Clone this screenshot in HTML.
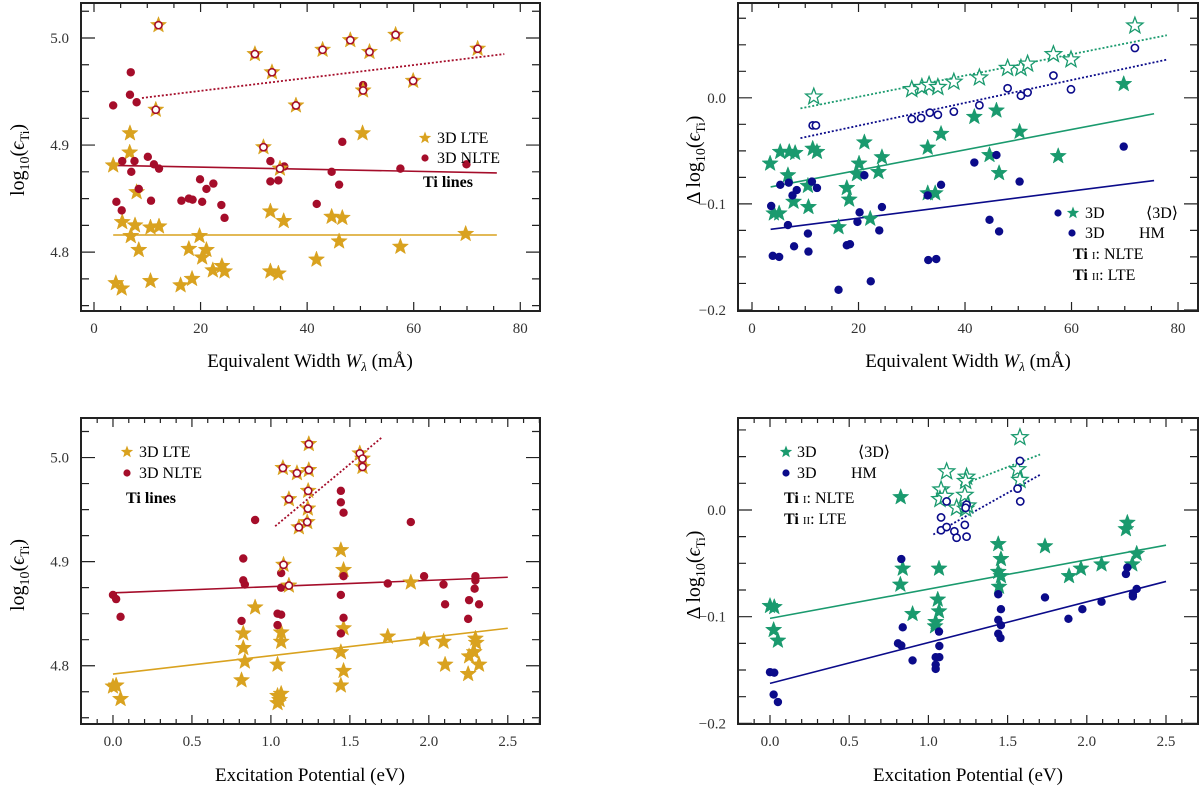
<!DOCTYPE html>
<html><head><meta charset="utf-8"><style>
html,body{margin:0;padding:0;background:#fff;}
svg{display:block;font-family:"Liberation Serif","DejaVu Serif",serif;}
</style></head><body>
<svg id="fig" width="1200" height="786" viewBox="0 0 1200 786" xmlns="http://www.w3.org/2000/svg">
<g id="layer"></g>
<text x="310" y="367" font-size="19" text-anchor="middle">Equivalent Width <tspan font-style="italic">W</tspan><tspan font-style="italic" font-size="13" dy="4">λ</tspan><tspan dy="-4"> (mÅ)</tspan></text>
<text x="968" y="367" font-size="19" text-anchor="middle">Equivalent Width <tspan font-style="italic">W</tspan><tspan font-style="italic" font-size="13" dy="4">λ</tspan><tspan dy="-4"> (mÅ)</tspan></text>
<text x="310" y="781" font-size="19" text-anchor="middle">Excitation Potential (eV)</text>
<text x="968" y="781" font-size="19" text-anchor="middle">Excitation Potential (eV)</text>
<text transform="translate(24,160) rotate(-90)" font-size="20" text-anchor="middle">log<tspan font-size="14" dy="5">10</tspan><tspan dy="-5">(</tspan><tspan font-style="italic">ϵ</tspan><tspan font-size="13" dy="5">Ti</tspan><tspan dy="-5">)</tspan></text>
<text transform="translate(24,575) rotate(-90)" font-size="20" text-anchor="middle">log<tspan font-size="14" dy="5">10</tspan><tspan dy="-5">(</tspan><tspan font-style="italic">ϵ</tspan><tspan font-size="13" dy="5">Ti</tspan><tspan dy="-5">)</tspan></text>
<text transform="translate(700,160) rotate(-90)" font-size="20" text-anchor="middle">Δ log<tspan font-size="14" dy="5">10</tspan><tspan dy="-5">(</tspan><tspan font-style="italic">ϵ</tspan><tspan font-size="13" dy="5">Ti</tspan><tspan dy="-5">)</tspan></text>
<text transform="translate(700,575) rotate(-90)" font-size="20" text-anchor="middle">Δ log<tspan font-size="14" dy="5">10</tspan><tspan dy="-5">(</tspan><tspan font-style="italic">ϵ</tspan><tspan font-size="13" dy="5">Ti</tspan><tspan dy="-5">)</tspan></text>
<g font-size="16">
<text x="437" y="143">3D LTE</text>
<text x="437" y="163">3D NLTE</text>
<text x="423" y="187" font-weight="bold">Ti lines</text>
</g>
<g font-size="16">
<text x="139" y="457">3D LTE</text>
<text x="139" y="478">3D NLTE</text>
<text x="126" y="503" font-weight="bold">Ti lines</text>
</g>
<g font-size="16">
<text x="1085" y="218">3D</text>
<text x="1146" y="218">⟨3D⟩</text>
<text x="1085" y="238">3D</text>
<text x="1139" y="238">HM</text>
<text x="1073" y="259"><tspan font-weight="bold">Ti</tspan> <tspan font-size="11">I</tspan>: NLTE</text>
<text x="1073" y="280"><tspan font-weight="bold">Ti</tspan> <tspan font-size="11">II</tspan>: LTE</text>
</g>
<g font-size="16">
<text x="797" y="457">3D</text>
<text x="858" y="457">⟨3D⟩</text>
<text x="797" y="478">3D</text>
<text x="851" y="478">HM</text>
<text x="784" y="503"><tspan font-weight="bold">Ti</tspan> <tspan font-size="11">I</tspan>: NLTE</text>
<text x="784" y="524"><tspan font-weight="bold">Ti</tspan> <tspan font-size="11">II</tspan>: LTE</text>
</g>
</svg>
<script>
const tlBothX = [12.1,30.2,33.4,42.9,48.1,51.7,56.6,72,59.9,50.5,37.9,11.6,31.8,34.9];
const tlBothY = [5.012,4.985,4.968,4.989,4.998,4.987,5.003,4.990,4.960,4.951,4.937,4.933,4.898,4.878];
const tlNlteX = [50.5,6.9,6.75,8,3.6,46.6,10.1,5.3,7.6,33.1,11.25,12.2,7,35.7,44.6,57.5,69.9,19.9,33.1,34.6,22.4,46,21.1,8.4,4.2,10.7,16.4,17.8,18.5,20.3,23.9,41.8,5.2,24.5];
const tlNlteY = [4.956,4.968,4.947,4.94,4.937,4.903,4.889,4.885,4.885,4.885,4.882,4.878,4.875,4.88,4.875,4.878,4.882,4.868,4.866,4.867,4.864,4.863,4.859,4.859,4.847,4.848,4.848,4.85,4.849,4.847,4.844,4.845,4.839,4.832];
const tlLteX = [6.75,50.4,6.7,3.6,8,33.1,35.6,5.3,7.7,10.6,12.2,44.6,46.6,6.9,19.8,69.75,46,57.5,8.4,17.8,21.1,20.3,41.75,22.3,24,24.5,33.1,34.6,10.6,18.4,4.1,5.2,16.25];
const tlLteY = [4.911,4.911,4.893,4.881,4.856,4.838,4.829,4.828,4.825,4.823,4.824,4.833,4.832,4.815,4.815,4.817,4.81,4.805,4.802,4.803,4.802,4.795,4.793,4.783,4.787,4.782,4.782,4.78,4.773,4.775,4.771,4.766,4.769];
const tlFitBoth = [[9,4.944],[77,4.985]];
const tlFitNlte = [[3.6,4.881],[75.6,4.874]];
const tlFitLte = [[3.6,4.816],[75.6,4.816]];
const tlXTicks = [0,20,40,60,80];
const tlYTicks = [4.8,4.9,5.0];

const trAvg2X = [11.6,30,31.9,33.25,34.9,37.9,42.7,48,50.5,51.75,56.6,59.9,71.9];
const trAvg2Y = [0.001,0.008,0.010,0.012,0.010,0.015,0.019,0.028,0.028,0.032,0.041,0.036,0.068];
const trHm2X = [11.4,12,30,31.75,33.4,34.9,37.9,42.7,48,50.5,51.75,56.6,59.9,71.9];
const trHm2Y = [-0.026,-0.026,-0.02,-0.019,-0.014,-0.016,-0.013,-0.007,0.009,0.002,0.005,0.021,0.008,0.047];
const trAvg1X = [69.8,41.75,45.9,35.5,21.1,50.25,33,5.3,7,8.1,11.4,12.2,3.4,20.1,24.4,44.6,57.5,23.75,6.75,46.4,19.7,10.5,17.8,7.8,18.25,33,34.4,10.6,4.1,5.1,22.2,16.25];
const trAvg1Y = [0.013,-0.018,-0.012,-0.034,-0.042,-0.032,-0.047,-0.051,-0.051,-0.052,-0.048,-0.051,-0.062,-0.062,-0.056,-0.054,-0.055,-0.07,-0.073,-0.071,-0.072,-0.083,-0.085,-0.098,-0.096,-0.09,-0.09,-0.103,-0.109,-0.109,-0.114,-0.122];
const trHm1X = [69.8,41.75,45.9,50.25,35.5,21.1,5.3,6.9,8.4,7.6,11.25,12.2,33,3.6,24.4,20.2,19.8,6.75,44.6,46.4,10.5,23.9,7.9,10.6,3.9,5.1,17.8,18.4,33.1,34.6,16.25,22.3];
const trHm1Y = [-0.046,-0.061,-0.054,-0.079,-0.082,-0.073,-0.082,-0.08,-0.087,-0.092,-0.079,-0.085,-0.092,-0.102,-0.103,-0.108,-0.117,-0.12,-0.115,-0.126,-0.128,-0.125,-0.14,-0.145,-0.149,-0.15,-0.139,-0.138,-0.153,-0.152,-0.181,-0.173];
const trFitAvg2 = [[9.1,-0.010],[77.9,0.059]];
const trFitHm2 = [[9.1,-0.038],[77.9,0.036]];
const trFitAvg1 = [[3.5,-0.084],[75.5,-0.015]];
const trFitHm1 = [[3.5,-0.124],[75.5,-0.078]];
const trXTicks = [0,20,40,60,80];
const trYTicks = [-0.2,-0.1,0.0];

const blBothX = [1.24,1.076,1.165,1.24,1.236,1.114,1.234,1.23,1.177,1.563,1.58,1.58,1.08,1.114];
const blBothY = [5.013,4.990,4.985,4.988,4.968,4.960,4.951,4.938,4.933,5.004,4.999,4.991,4.897,4.877];
const blNlteX = [1.443,1.443,1.46,0.9,1.886,0.825,1.065,1.46,1.97,2.295,2.295,0.825,0.835,1.74,2.093,1.065,2.29,0,0.02,1.443,2.255,2.103,2.318,1.042,1.065,0.048,1.46,2.249,0.814,1.042,1.443];
const blNlteY = [4.968,4.957,4.947,4.94,4.938,4.903,4.889,4.886,4.886,4.886,4.882,4.882,4.878,4.879,4.878,4.875,4.874,4.868,4.864,4.868,4.863,4.859,4.859,4.85,4.849,4.847,4.846,4.845,4.843,4.839,4.831];
const blLteX = [1.443,1.46,1.886,0.9,0.825,1.065,1.065,1.46,1.74,1.97,2.093,2.295,2.3,0.825,1.443,2.287,0.835,1.042,2.255,2.103,2.318,1.46,2.249,0.814,0,0.02,1.443,0.048,1.065,1.042,1.055,1.042];
const blLteY = [4.911,4.892,4.88,4.856,4.831,4.832,4.823,4.836,4.828,4.825,4.823,4.826,4.822,4.817,4.813,4.813,4.804,4.801,4.809,4.801,4.801,4.795,4.792,4.786,4.780,4.781,4.781,4.768,4.773,4.771,4.767,4.764];
const blFitBoth = [[1.027,4.934],[1.70,5.019]];
const blFitNlte = [[0,4.870],[2.5,4.885]];
const blFitLte = [[0,4.792],[2.5,4.836]];
const blXTicks = [0.0,0.5,1.0,1.5,2.0,2.5];
const blYTicks = [4.8,4.9,5.0];

const brAvg2X = [1.578,1.115,1.241,1.235,1.08,1.563,1.578,1.073,1.105,1.23,1.178,1.235,1.248];
const brAvg2Y = [0.068,0.036,0.031,0.027,0.019,0.038,0.028,0.010,0.013,0.014,0.002,0.001,0.004];
const brHm2X = [1.578,1.563,1.58,1.115,1.241,1.235,1.08,1.08,1.115,1.164,1.23,1.178,1.241];
const brHm2Y = [0.046,0.020,0.008,0.008,0.005,0.002,-0.007,-0.019,-0.016,-0.02,-0.014,-0.026,-0.025];
const brAvg1X = [0.825,2.256,2.247,1.441,1.736,1.458,2.315,2.287,2.093,0.838,1.067,1.441,1.458,1.963,1.888,0.823,1.446,1.059,1.067,0.9,1.046,1.042,0,0.027,0.023,0.05];
const brAvg1Y = [0.012,-0.012,-0.018,-0.032,-0.034,-0.046,-0.041,-0.051,-0.051,-0.055,-0.055,-0.058,-0.062,-0.055,-0.062,-0.070,-0.072,-0.084,-0.095,-0.0975,-0.105,-0.109,-0.090,-0.091,-0.1125,-0.1225];
const brHm1X = [0.829,2.256,2.247,2.315,2.291,2.291,2.093,1.972,1.884,1.736,1.441,1.458,1.441,1.458,1.441,1.455,0.838,1.067,0.808,0.829,1.069,0.9,1.046,1.069,1.046,1.046,0,0.027,0.023,0.05];
const brHm1Y = [-0.046,-0.054,-0.060,-0.074,-0.079,-0.081,-0.086,-0.093,-0.102,-0.082,-0.079,-0.093,-0.103,-0.108,-0.116,-0.12,-0.11,-0.114,-0.125,-0.127,-0.1275,-0.141,-0.138,-0.138,-0.145,-0.149,-0.152,-0.1525,-0.173,-0.18];
const brFitAvg2 = [[1.2,0.023],[1.705,0.052]];
const brFitHm2 = [[1.031,-0.023],[1.705,0.033]];
const brFitAvg1 = [[0,-0.1016],[2.5,-0.033]];
const brFitHm1 = [[0,-0.1625],[2.5,-0.067]];
const brXTicks = [0.0,0.5,1.0,1.5,2.0,2.5];
const brYTicks = [-0.2,-0.1,0.0];

const GOLD="#d9a21f", RED="#a50d2a", GREEN="#1a9a6e", BLUE="#0b0b8a";
const NS="http://www.w3.org/2000/svg";
const layer=document.getElementById('layer');
function mk(tag,attrs,parent){const e=document.createElementNS(NS,tag);for(const k in attrs)e.setAttribute(k,attrs[k]);(parent||layer).appendChild(e);return e;}
function starPath(cx,cy,R){const r=R*0.42;let d="";for(let i=0;i<10;i++){const a=-Math.PI/2+i*Math.PI/5;const rr=i%2?r:R;d+=(i?"L":"M")+(cx+rr*Math.cos(a)).toFixed(2)+","+(cy+rr*Math.sin(a)).toFixed(2);}return d+"Z";}

function panel(name,fx0,fx1,fy0,fy1,xd0,xd1,yd0,yd1){
  const sx=d=>fx0+(d-xd0)/(xd1-xd0)*(fx1-fx0);
  const sy=d=>fy1-(d-yd0)/(yd1-yd0)*(fy1-fy0);
  const g=mk('g',{});
  
  
  return {sx,sy,g,fx0,fx1,fy0,fy1,xd0,xd1,yd0,yd1,name};
}
function frame(P,xTicks,yTicks,xMinor,yMinor,xFmt,yFmt){
  const {sx,sy,fx0,fx1,fy0,fy1}=P;
  const ax=mk('g',{});
  
  
  let d="";
  for(let v=Math.ceil(P.xd0/xMinor)*xMinor;v<=P.xd1;v+=xMinor){const x=sx(v);const major=xTicks.some(t=>Math.abs(t-v)<1e-6);const L=major?9:5;d+=`M${x},${fy1}v${-L}M${x},${fy0}v${L}`;}
  for(let v=Math.ceil(P.yd0/yMinor-1e-9)*yMinor;v<=P.yd1+1e-9;v+=yMinor){const y=sy(v);const major=yTicks.some(t=>Math.abs(t-v)<1e-6);const L=major?14:8;d+=`M${fx0},${y}h${L}M${fx1},${y}h${-L}`;}
  mk('path',{d,stroke:'#222','stroke-width':1.2,fill:'none'},ax);
  mk('rect',{x:fx0,y:fy0,width:fx1-fx0,height:fy1-fy0,fill:'none',stroke:'#222','stroke-width':2},ax);
  xTicks.forEach(v=>{const t=mk('text',{x:sx(v),y:fy1+22,'font-size':15,'text-anchor':'middle',fill:'#333'},ax);t.textContent=xFmt(v);
    
    });
  yTicks.forEach(v=>{const t=mk('text',{x:fx0-12,y:sy(v)+5,'font-size':15,'text-anchor':'end',fill:'#333'},ax);t.textContent=yFmt(v);
    
    });
}
function fit(P,pts,color,dotted,nm){
  const l=mk('line',{x1:P.sx(pts[0][0]),y1:P.sy(pts[0][1]),x2:P.sx(pts[1][0]),y2:P.sy(pts[1][1]),stroke:color,'stroke-width':dotted?1.8:1.6,'stroke-dasharray':dotted?'2,2':'none'},P.g);
  
  
}
function stars(P,xs,ys,color,hollow,nm,R){
  xs.forEach((x,i)=>{const p=mk('path',{d:starPath(P.sx(x),P.sy(ys[i]),R||8.5),fill:hollow?'#fff':color,stroke:color,'stroke-width':hollow?1.3:0.5},P.g);
    
    });
}
function dots(P,xs,ys,color,hollow,nm){
  xs.forEach((x,i)=>{const c=mk('circle',{cx:P.sx(x),cy:P.sy(ys[i]),r:hollow?3.6:4.2,fill:hollow?'#fff':color,stroke:color,'stroke-width':hollow?1.6:0},P.g);
    
    });
}
const f1=v=>v.toFixed(1), f0=v=>String(v), fm=v=>(v<0?'−':'')+Math.abs(v).toFixed(1);

const TL=panel('tl',81,540,3,311,-2.44,83.7,4.745,5.0327);
fit(TL,tlFitBoth,RED,true,'fit-line-both');
fit(TL,tlFitNlte,RED,false,'fit-line-nlte');
fit(TL,tlFitLte,GOLD,false,'fit-line-lte');
stars(TL,tlLteX,tlLteY,GOLD,false,'lte-star');
dots(TL,tlNlteX,tlNlteY,RED,false,'nlte-dot');
stars(TL,tlBothX,tlBothY,GOLD,false,'ti2-star');
dots(TL,tlBothX,tlBothY,RED,true,'ti2-ring');
frame(TL,tlXTicks,tlYTicks,5,0.025,f0,f1);
const TR=panel('tr',738,1198,3,311,-2.63,83.75,-0.201,0.0894);
fit(TR,trFitAvg2,GREEN,true,'fit-line-avg-ti2');
fit(TR,trFitHm2,BLUE,true,'fit-line-hm-ti2');
fit(TR,trFitAvg1,GREEN,false,'fit-line-avg-ti1');
fit(TR,trFitHm1,BLUE,false,'fit-line-hm-ti1');
stars(TR,trAvg1X,trAvg1Y,GREEN,false,'avg-star');
dots(TR,trHm1X,trHm1Y,BLUE,false,'hm-dot');
stars(TR,trAvg2X,trAvg2Y,GREEN,true,'avg-hollow-star');
dots(TR,trHm2X,trHm2Y,BLUE,true,'hm-hollow-circle');
frame(TR,trXTicks,trYTicks,5,0.025,f0,fm);
const BL=panel('bl',81,540,418,724,-0.2025,2.704,4.744,5.038);
fit(BL,blFitBoth,RED,true,'fit-line-both');
fit(BL,blFitNlte,RED,false,'fit-line-nlte');
fit(BL,blFitLte,GOLD,false,'fit-line-lte');
stars(BL,blLteX,blLteY,GOLD,false,'lte-star');
dots(BL,blNlteX,blNlteY,RED,false,'nlte-dot');
stars(BL,blBothX,blBothY,GOLD,false,'ti2-star');
dots(BL,blBothX,blBothY,RED,true,'ti2-ring');
frame(BL,blXTicks,blYTicks,0.1,0.025,f1,f1);
const BR=panel('br',738,1198,418,724,-0.202,2.702,-0.2006,0.0862);
fit(BR,brFitAvg2,GREEN,true,'fit-line-avg-ti2');
fit(BR,brFitHm2,BLUE,true,'fit-line-hm-ti2');
fit(BR,brFitAvg1,GREEN,false,'fit-line-avg-ti1');
fit(BR,brFitHm1,BLUE,false,'fit-line-hm-ti1');
stars(BR,brAvg1X,brAvg1Y,GREEN,false,'avg-star');
dots(BR,brHm1X,brHm1Y,BLUE,false,'hm-dot');
stars(BR,brAvg2X,brAvg2Y,GREEN,true,'avg-hollow-star');
dots(BR,brHm2X,brHm2Y,BLUE,true,'hm-hollow-circle');
frame(BR,brXTicks,brYTicks,0.1,0.025,f1,fm);

function lg(shape,x,y,color,nm){let e;
  if(shape==='star')e=mk('path',{d:starPath(x,y,6.5),fill:color});
  else e=mk('circle',{cx:x,cy:y,r:3.6,fill:color});
  
  }
lg('star',425,138,GOLD,'legend-marker-lte');
lg('dot',425,158,RED,'legend-marker-nlte');
lg('star',127,452,GOLD,'legend-marker-lte');
lg('dot',127,473,RED,'legend-marker-nlte');
lg('dot',1058,213,BLUE,'legend-marker-hm');
lg('star',1073,213,GREEN,'legend-marker-avg');
lg('dot',1072,233,BLUE,'legend-marker-hm');
lg('star',786,452,GREEN,'legend-marker-avg');
lg('dot',786,473,BLUE,'legend-marker-hm');
</script>
</body></html>
